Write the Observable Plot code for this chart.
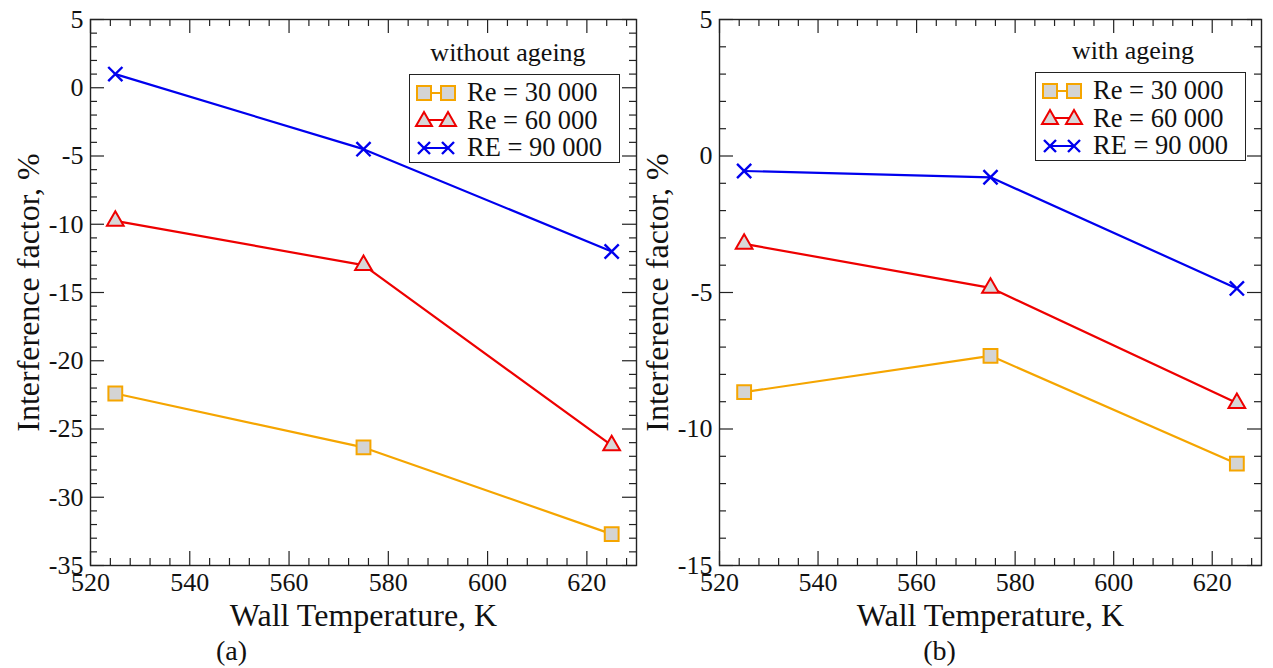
<!DOCTYPE html>
<html><head><meta charset="utf-8">
<script src="https://cdn.jsdelivr.net/npm/d3@7"></script>
<script src="https://cdn.jsdelivr.net/npm/@observablehq/plot@0.6"></script>
<style>
html,body{margin:0;padding:0;background:#fff;}
#wrap{position:relative;width:1273px;height:668px;overflow:hidden;font-family:"Liberation Serif","Times New Roman",serif;color:#111;}
#wrap svg.plot{position:absolute;top:0;}
.ltitle{position:absolute;font-size:26px;line-height:1;transform:translate(-50%,-50%);white-space:nowrap;}
.legend{position:absolute;border:1.5px solid #222;background:#fff;box-sizing:border-box;}
.row{position:absolute;left:0;height:27px;display:flex;align-items:center;white-space:nowrap;font-size:26.5px;}
.row svg{display:block;margin-left:4px;margin-right:9px;}
</style></head><body><div id="wrap"></div><script>
// ---- data ----
const temps = [525, 575, 625];
const seriesNames = ["Re = 30 000", "Re = 60 000", "RE = 90 000"];
const seriesColors = ["#f5a500", "#ee0000", "#0000ee"];
const noAgeRe30 = [-22.4, -26.35, -32.7];
const noAgeRe60 = [-9.75, -13.0, -26.2];
const noAgeRe90 = [1.0, -4.5, -12.0];
const ageRe30 = [-8.65, -7.32, -11.27];
const ageRe60 = [-3.22, -4.83, -9.05];
const ageRe90 = [-0.55, -0.78, -4.85];
const xTicks = [520, 540, 560, 580, 600, 620];
const yTicksA = [-35, -30, -25, -20, -15, -10, -5, 0, 5];
const yTicksB = [-15, -10, -5, 0, 5];
const panelTitles = ["without ageing", "with ageing"];
const panelTags = ["(a)", "(b)"];

const xMinor = d3.range(520, 630, 4).filter(d => d % 20 !== 0);
const FONT = "Liberation Serif, Times New Roman, serif";

function rows(vals) {
  const out = [];
  vals.forEach((arr, si) => arr.forEach((v, i) => out.push({t: temps[i], v, s: seriesNames[si]})));
  return out;
}

function panel({left, width, marginLeft, marginRight, yDomain, yTicks, data, tag, tagDx}) {
  const height = 668, marginTop = 19, marginBottom = 103;
  const W = width - marginLeft - marginRight;
  const H = height - marginTop - marginBottom;
  const yMinor = d3.range(yDomain[0], yDomain[1] + 0.001, 1).filter(d => d % 5 !== 0);
  const tickStroke = "#222";
  const sq = data.filter(d => d.s === seriesNames[0]);
  const tr = data.filter(d => d.s === seriesNames[1]);
  const cr = data.filter(d => d.s === seriesNames[2]);
  const svg = Plot.plot({
    width, height, marginTop, marginBottom, marginLeft, marginRight,
    x: {domain: [520, 630]},
    y: {domain: yDomain},
    color: {domain: seriesNames, range: seriesColors},
    style: {fontFamily: FONT, background: "transparent", color: "#111"},
    marks: [
      Plot.ruleY(yMinor, {y: d => d, insetRight: W - 7, stroke: tickStroke, strokeWidth: 1.2}),
      Plot.ruleY(yMinor, {y: d => d, insetLeft: W - 7, stroke: tickStroke, strokeWidth: 1.2}),
      Plot.ruleY(yTicks, {y: d => d, insetRight: W - 14, stroke: tickStroke, strokeWidth: 1.2}),
      Plot.ruleY(yTicks, {y: d => d, insetLeft: W - 14, stroke: tickStroke, strokeWidth: 1.2}),
      Plot.ruleX(xMinor, {x: d => d, insetTop: H - 7, stroke: tickStroke, strokeWidth: 1.2}),
      Plot.ruleX(xMinor, {x: d => d, insetBottom: H - 7, stroke: tickStroke, strokeWidth: 1.2}),
      Plot.ruleX(xTicks, {x: d => d, insetTop: H - 14, stroke: tickStroke, strokeWidth: 1.2}),
      Plot.ruleX(xTicks, {x: d => d, insetBottom: H - 14, stroke: tickStroke, strokeWidth: 1.2}),
      Plot.axisY(yTicks, {tickSize: 0, tickPadding: 7, fontSize: 26, label: null, tickFormat: d => String(d), fill: "#111"}),
      Plot.axisX(xTicks, {tickSize: 0, tickPadding: 7, fontSize: 26, label: null, tickFormat: d => String(d), fill: "#111"}),
      Plot.text(["Wall Temperature, K"], {frameAnchor: "bottom", dy: 50, fontSize: 32, textAnchor: "middle", lineAnchor: "middle", fill: "#111"}),
      Plot.text(["Interference factor, %"], {frameAnchor: "left", dx: -62, rotate: -90, fontSize: 32, textAnchor: "middle", lineAnchor: "middle", fill: "#111"}),
      Plot.text([tag], {frameAnchor: "bottom", dy: 86, dx: tagDx, fontSize: 28, textAnchor: "middle", lineAnchor: "middle", fill: "#111"}),
      Plot.line(data, {x: "t", y: "v", z: "s", stroke: "s", strokeWidth: 2.2}),
      Plot.dot(sq, {x: "t", y: "v", symbol: "square", r: 7.8, fill: "#d4d4d4", stroke: seriesColors[0], strokeWidth: 2}),
      Plot.dot(tr, {x: "t", y: "v", symbol: "triangle", r: 6.2, fill: "#d8d8d8", stroke: seriesColors[1], strokeWidth: 2}),
      Plot.dot(cr, {x: "t", y: "v", symbol: "times", r: 6.5, stroke: seriesColors[2], strokeWidth: 2.4}),
      Plot.frame({stroke: "#222", strokeWidth: 1.4})
    ]
  });
  svg.classList.add("plot");
  svg.style.left = left + "px";
  return svg;
}

const wrap = document.getElementById("wrap");
wrap.appendChild(panel({left: 0, width: 640, marginLeft: 90, marginRight: 4, yDomain: [-35, 5], yTicks: yTicksA,
  data: rows([noAgeRe30, noAgeRe60, noAgeRe90]), tag: panelTags[0], tagDx: -132}));
wrap.appendChild(panel({left: 637, width: 636, marginLeft: 82, marginRight: 12, yDomain: [-15, 5], yTicks: yTicksB,
  data: rows([ageRe30, ageRe60, ageRe90]), tag: panelTags[1], tagDx: -51}));

function symbolSvg(i) {
  const c = seriesColors[i];
  const ns = "http://www.w3.org/2000/svg";
  const s = document.createElementNS(ns, "svg");
  s.setAttribute("width", 44); s.setAttribute("height", 22);
  const add = (tag, attrs) => { const e = document.createElementNS(ns, tag); for (const k in attrs) e.setAttribute(k, attrs[k]); s.appendChild(e); };
  add("line", {x1: 10, x2: 34, y1: 11, y2: 11, stroke: c, "stroke-width": 2});
  [10, 34].forEach(cx => {
    if (i === 0) add("rect", {x: cx - 7, y: 4, width: 14, height: 14, fill: "#d4d4d4", stroke: c, "stroke-width": 2});
    else if (i === 1) add("path", {d: `M${cx},3L${cx + 8},17L${cx - 8},17Z`, fill: "#d8d8d8", stroke: c, "stroke-width": 2});
    else add("path", {d: `M${cx - 6},5L${cx + 6},17M${cx - 6},17L${cx + 6},5`, stroke: c, "stroke-width": 2.4, fill: "none"});
  });
  return s;
}

function legend(boxLeft, boxTop, titleX, titleY, title) {
  const t = document.createElement("div");
  t.className = "ltitle"; t.textContent = title;
  t.style.left = titleX + "px"; t.style.top = titleY + "px";
  wrap.appendChild(t);
  const box = document.createElement("div");
  box.className = "legend";
  box.style.left = boxLeft + "px"; box.style.top = boxTop + "px";
  box.style.width = "211px"; box.style.height = "89px";
  seriesNames.forEach((name, i) => {
    const r = document.createElement("div");
    r.className = "row";
    r.style.top = (4 + i * 27.5) + "px";
    r.appendChild(symbolSvg(i));
    const span = document.createElement("span");
    span.textContent = name;
    r.appendChild(span);
    box.appendChild(r);
  });
  wrap.appendChild(box);
}
legend(409, 74, 508, 53, panelTitles[0]);
legend(1035, 72, 1133, 51, panelTitles[1]);
</script></body></html>
